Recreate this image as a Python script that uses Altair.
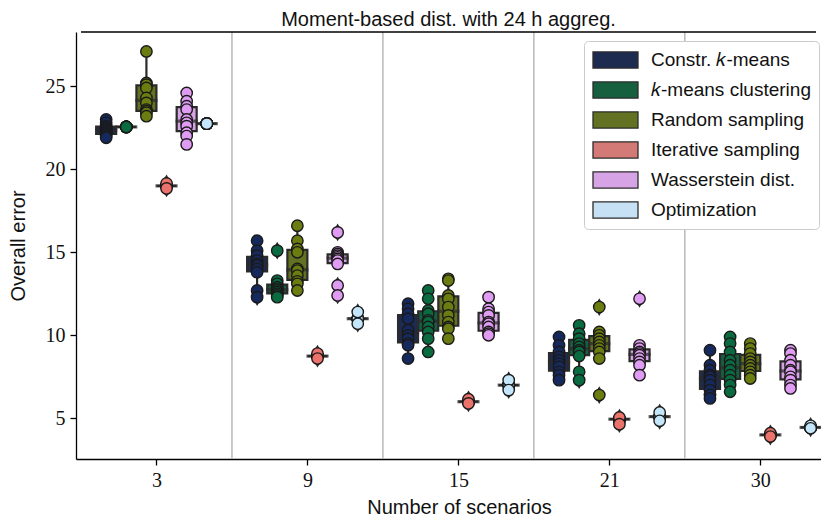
import altair as alt
import pandas as pd

# ---------------- data ----------------
groups = ["3", "9", "15", "21", "30"]
methods = ["Constr. 𝑘-means", "𝑘-means clustering", "Random sampling",
           "Iterative sampling", "Wasserstein dist.", "Optimization"]
box_colors = ["#1e2b50", "#17603f", "#627222", "#d47a76", "#d6a3e4", "#c6e1f3"]
point_colors = ["#16295c", "#0a6b41", "#6b7c10", "#ec726c", "#e09bf2", "#c4e6fb"]

constr_kmeans = [
    [23.0, 22.8, 22.6, 22.5, 22.4, 22.3, 22.2, 22.1, 22.0, 21.9],
    [15.7, 15.1, 14.8, 14.5, 14.3, 14.2, 14.0, 13.8, 12.7, 12.3],
    [11.9, 11.6, 11.3, 11.0, 10.3, 10.0, 9.8, 9.5, 9.4, 8.6],
    [9.9, 9.4, 9.0, 8.7, 8.5, 8.3, 8.1, 7.8, 7.6, 7.3],
    [9.1, 8.2, 7.9, 7.6, 7.5, 7.3, 7.0, 6.7, 6.4, 6.2],
]
kmeans_clustering = [
    [22.55, 22.55, 22.55, 22.55, 22.55, 22.55, 22.55, 22.55, 22.55, 22.55],
    [15.1, 13.3, 13.1, 12.9, 12.8, 12.7, 12.6, 12.5, 12.4, 12.3],
    [12.7, 12.2, 11.5, 11.3, 10.9, 10.8, 10.5, 10.2, 9.8, 9.0],
    [10.6, 10.1, 9.8, 9.5, 9.3, 9.1, 9.0, 8.75, 7.8, 7.3],
    [9.9, 9.5, 9.0, 8.5, 8.2, 7.9, 7.6, 7.3, 7.0, 6.6],
]
random_sampling = [
    [27.1, 25.2, 25.1, 24.9, 24.3, 24.0, 23.6, 23.5, 23.4, 23.2],
    [16.6, 15.7, 15.2, 15.0, 14.0, 13.9, 13.6, 13.25, 13.1, 12.7],
    [13.4, 13.3, 12.4, 12.2, 11.7, 11.2, 10.8, 10.5, 10.4, 9.8],
    [11.7, 10.2, 10.0, 9.8, 9.6, 9.4, 9.2, 9.0, 8.6, 6.4],
    [9.5, 9.2, 8.9, 8.6, 8.4, 8.2, 8.0, 7.8, 7.6, 7.4],
]
iterative_sampling = [
    [19.0, 19.0, 19.0, 19.0, 19.0, 19.0, 19.0, 19.0, 19.15, 18.85],
    [8.75, 8.75, 8.75, 8.75, 8.75, 8.75, 8.75, 8.75, 8.9, 8.6],
    [6.0, 6.0, 6.0, 6.0, 6.0, 6.0, 6.0, 6.0, 6.15, 5.9],
    [4.95, 4.95, 4.95, 4.95, 4.95, 4.95, 4.95, 4.95, 5.05, 4.65],
    [4.0, 4.0, 4.0, 4.0, 4.0, 4.0, 4.0, 4.0, 4.1, 3.9],
]
wasserstein = [
    [24.6, 24.1, 23.8, 23.6, 23.0, 22.8, 22.6, 22.2, 22.0, 21.5],
    [16.2, 15.0, 14.9, 14.8, 14.7, 14.6, 14.5, 14.3, 13.0, 12.4],
    [12.3, 11.6, 11.4, 11.2, 10.8, 10.7, 10.5, 10.2, 10.1, 10.0],
    [12.2, 9.4, 9.2, 9.0, 8.9, 8.8, 8.6, 8.4, 8.2, 7.6],
    [9.1, 8.9, 8.5, 8.2, 7.9, 7.8, 7.5, 7.3, 7.0, 6.8],
]
optimization = [
    [22.75, 22.75, 22.75, 22.75, 22.75, 22.75, 22.75, 22.75, 22.75, 22.75],
    [11.0, 11.0, 11.0, 11.0, 11.0, 11.0, 11.0, 11.0, 11.4, 10.7],
    [7.0, 7.0, 7.0, 7.0, 7.0, 7.0, 7.0, 7.0, 7.3, 6.7],
    [5.1, 5.1, 5.1, 5.1, 5.1, 5.1, 5.1, 5.1, 5.35, 4.85],
    [4.45, 4.45, 4.45, 4.45, 4.45, 4.45, 4.45, 4.45, 4.55, 4.4],
]
series = [constr_kmeans, kmeans_clustering, random_sampling,
          iterative_sampling, wasserstein, optimization]
separators = [0.5, 1.5, 2.5, 3.5]
y_ticks = [5, 10, 15, 20, 25]

# ---------------- table ----------------
dodge = 0.8 / len(methods)
rows = []
for mi, (m, s) in enumerate(zip(methods, series)):
    off = (mi - (len(methods) - 1) / 2) * dodge
    for gi, vals in enumerate(s):
        for v in vals:
            rows.append({"method": m, "group": groups[gi], "x": gi + off, "value": v})
df = pd.DataFrame(rows)

Y_MIN, Y_MAX = 2.55, 28.27
X_MIN, X_MAX = -0.5, 4.369
W, H = 745, 427
DARK = "#2b2b2b"

xscale = alt.Scale(domain=[X_MIN, X_MAX], nice=False, zero=False)
yscale = alt.Scale(domain=[Y_MIN, Y_MAX], nice=False, zero=False)
label_expr = "[" + ",".join(f"'{g}'" for g in groups) + "][datum.value]"

xaxis = alt.Axis(values=list(range(len(groups))), labelExpr=label_expr,
                 title="Number of scenarios", grid=False, titleX=383,
                 titlePadding=7)
yaxis = alt.Axis(values=y_ticks, title="Overall error", grid=False,
                 titleX=-58, titleBaseline="middle")

base = alt.Chart(df)

sep = alt.Chart(pd.DataFrame({"s": separators})).mark_rule(
    color="#b3b3b3", strokeWidth=1.4
).encode(x=alt.X("s:Q", scale=xscale, axis=xaxis))

thin_diamond = "M0,-1L0.6,0L0,1L-0.6,0Z"
legend_rect = "M-1,-0.36H1V0.36H-1Z"

box = base.mark_boxplot(
    orient="vertical",
    extent=1.5,
    size=20,
    ticks=False,
    box={"stroke": DARK, "strokeWidth": 2.2},
    median={"stroke": DARK, "strokeWidth": 2.2},
    rule={"stroke": DARK, "strokeWidth": 2.2},
    outliers={"shape": thin_diamond, "size": 230, "filled": True,
              "stroke": DARK, "strokeWidth": 1.3, "opacity": 1},
).encode(
    x=alt.X("x:Q", scale=xscale, axis=xaxis),
    y=alt.Y("value:Q", scale=yscale, axis=yaxis),
    color=alt.Color("method:N", scale=alt.Scale(domain=methods, range=box_colors),
                    sort=methods,
                    legend=alt.Legend(title=None, orient="none",
                                      legendX=508, legendY=9,
                                      symbolType=legend_rect, symbolSize=2025,
                                      symbolStrokeColor=DARK, symbolStrokeWidth=1.3,
                                      symbolOpacity=1, clipHeight=22,
                                      labelFont="Liberation Sans", labelFontSize=19,
                                      labelColor="#111", rowPadding=8,
                                      padding=8, strokeColor="#cccccc",
                                      cornerRadius=4, fillColor="white",
                                      labelOffset=12, labelLimit=300)),
)

pts = base.mark_point(
    filled=True, shape="circle", size=130, stroke="#1a1a1a",
    strokeWidth=1.4, opacity=1
).encode(
    x=alt.X("x:Q", scale=xscale, axis=xaxis),
    y=alt.Y("value:Q", scale=yscale, axis=yaxis),
    color=alt.Color("method:N", scale=alt.Scale(domain=methods, range=point_colors),
                    legend=None),
)

frame = pd.DataFrame({"x0": [X_MIN], "x1": [X_MAX], "ytop": [Y_MAX]})
top = alt.Chart(frame).mark_rule(color="black", strokeWidth=1.3).encode(
    x=alt.X("x0:Q", scale=xscale, axis=xaxis), x2="x1:Q",
    y=alt.Y("ytop:Q", scale=yscale, axis=yaxis),
)

chart = alt.layer(sep, box, pts, top).resolve_scale(color="independent").properties(
    width=W, height=H,
    title=alt.TitleParams("Moment-based dist. with 24 h aggreg.", font="Liberation Sans",
                          fontSize=20, fontWeight="normal", color="#111", offset=1),
    autosize=alt.AutoSizeParams(type="none"),
    padding={"left": 68, "top": 24, "right": 0, "bottom": 58},
).configure_view(stroke=None).configure_axis(
    domainColor="black", domainWidth=1.3, tickColor="black", tickWidth=1.3,
    tickSize=6, labelFont="Liberation Serif", labelFontSize=20, labelColor="#111",
    titleFont="Liberation Sans", titleFontSize=20, titleFontWeight="normal",
    titleColor="#111", labelPadding=5,
)

chart.save("out.html", embed_options={"renderer": "svg", "actions": False})
